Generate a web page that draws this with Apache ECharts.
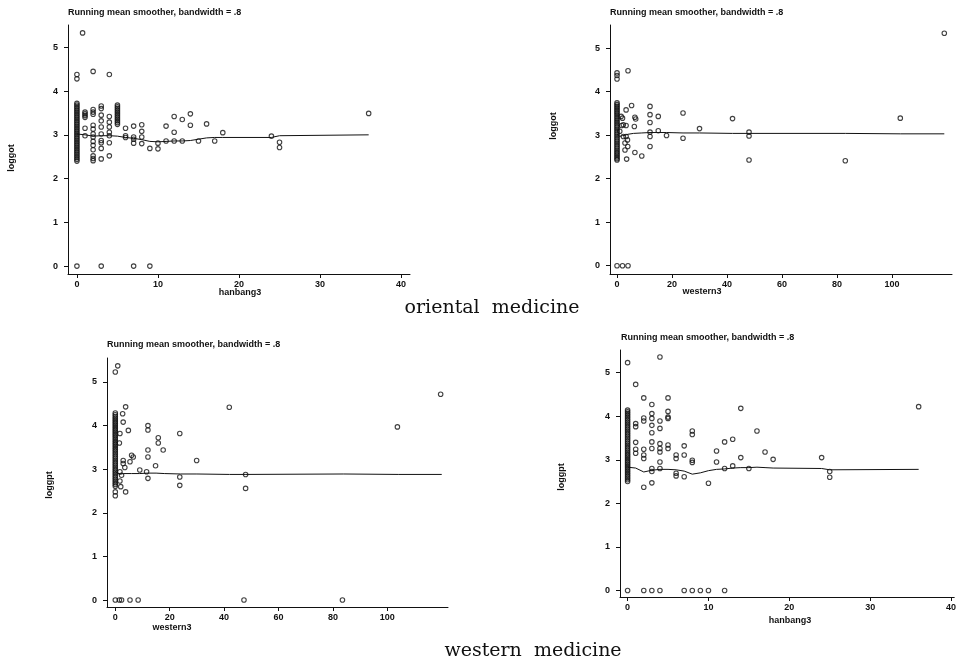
<!DOCTYPE html>
<html><head><meta charset="utf-8">
<script src="https://cdn.jsdelivr.net/npm/echarts@6/dist/echarts.min.js"></script>
<style>html,body{margin:0;padding:0;background:#fff}#c{width:959px;height:666px}</style>
</head><body><div id="c"></div>
<script>
// ---------- tick labels ----------
const yTicks = [0, 1, 2, 3, 4, 5];
const hanbangTicks = [0, 10, 20, 30, 40];
const westernTicks = [0, 20, 40, 60, 80, 100];
const panelTitle = 'Running mean smoother, bandwidth = .8';

// ---------- panel 1: hanbang3 vs loggot ----------
const p1Points = [
  [0,4.38],[0,4.28],[0,0],
  [0,3.72],[0,3.68],[0,3.64],[0,3.60],[0,3.56],[0,3.52],[0,3.48],[0,3.44],[0,3.40],[0,3.36],[0,3.32],[0,3.28],
  [0,3.24],[0,3.20],[0,3.16],[0,3.12],[0,3.08],[0,3.04],[0,3.00],[0,2.96],[0,2.92],[0,2.88],[0,2.84],[0,2.80],
  [0,2.76],[0,2.72],[0,2.68],[0,2.64],[0,2.60],[0,2.56],[0,2.52],[0,2.48],[0,2.44],[0,2.40],
  [0.7,5.33],[1,3.52],[1,3.48],[1,3.44],[1,3.40],[1,3.15],[1,2.98],
  [2,4.45],[2,3.58],[2,3.52],[2,3.47],[2,3.22],[2,3.13],[2,3.02],[2,2.95],[2,2.85],[2,2.76],[2,2.66],[2,2.52],[2,2.46],[2,2.41],
  [3,3.66],[3,3.60],[3,3.45],[3,3.32],[3,3.18],[3,3.02],[3,2.87],[3,2.82],[3,2.69],[3,2.45],[3,0],
  [4,4.38],[4,3.42],[4,3.29],[4,3.18],[4,3.06],[4,2.98],[4,2.82],[4,2.52],
  [5,3.68],[5,3.64],[5,3.60],[5,3.56],[5,3.52],[5,3.48],[5,3.44],[5,3.40],[5,3.36],[5,3.32],[5,3.28],[5,3.24],
  [6,3.15],[6,2.98],[6,2.94],
  [7,3.20],[7,2.95],[7,2.90],[7,2.81],[7,0],
  [8,3.23],[8,3.08],[8,2.95],[8,2.80],
  [9,2.69],[9,0],[10,2.81],[10,2.68],[11,3.20],[11,2.86],[12,3.42],[12,3.06],[12,2.86],
  [13,3.35],[13,2.86],[14,3.48],[14,3.22],[15,2.86],[16,3.25],[17,2.86],[18,3.05],
  [24,2.97],[25,2.83],[25,2.71],[36,3.49]
];
const p1Smooth = [[0,3.02],[1,3.0],[2,2.97],[3,2.98],[4,2.98],[5,2.97],[6,2.94],[7,2.92],[8,2.89],[9,2.85],[10,2.84],
  [11,2.85],[12,2.86],[13,2.86],[14,2.87],[15,2.90],[16,2.93],[17,2.94],[18,2.94],[24,2.94],[25,2.98],[36,3.0]];

// ---------- panel 2: western3 vs loggot ----------
const p2Points = [
  [0,4.43],[0,4.37],[0,4.29],[0,0],[2,0],[4,0],[4,4.48],
  [0,3.74],[0,3.70],[0,3.66],[0,3.62],[0,3.58],[0,3.54],[0,3.50],[0,3.46],[0,3.42],[0,3.38],[0,3.34],[0,3.30],
  [0,3.26],[0,3.22],[0,3.18],[0,3.14],[0,3.10],[0,3.06],[0,3.02],[0,2.98],[0,2.94],[0,2.90],[0,2.86],[0,2.82],
  [0,2.78],[0,2.74],[0,2.70],[0,2.66],[0,2.62],[0,2.58],[0,2.54],[0,2.50],[0,2.46],[0,2.43],
  [3.3,3.58],[2,3.39],[2.3,3.24],[3.3,3.22],[1.7,3.22],[3.3,2.97],[3.8,2.89],[2.9,2.82],[3.9,2.74],[2.9,2.66],
  [3.5,2.45],[2.3,2.97],[1,3.09],[1.5,3.43],
  [5.3,3.68],[6.5,3.41],[6.8,3.37],[6.3,3.20],[6.5,2.60],[9,2.52],
  [12,3.66],[12,3.47],[12,3.29],[12,3.07],[12,2.97],[12,2.74],
  [15,3.43],[15,3.10],[18,2.99],[24,3.51],[24,2.93],[30,3.15],[42,3.38],
  [48,3.07],[48,2.98],[48,2.43],[83,2.41],[103,3.39],[119,5.34]
];
const p2Smooth = [[0,3.02],[1,2.97],[2,2.99],[3,3.0],[4,3.02],[6,3.04],[9,3.05],[12,3.06],[18,3.06],[24,3.05],
  [30,3.05],[42,3.04],[48,3.04],[83,3.04],[103,3.03],[119,3.03]];

// ---------- panel 3: western3 vs loggpt ----------
const p3Points = [
  [0,5.23],[0,2.48],[0,2.39],[0,0],[0.9,5.37],[1.5,0],[2.3,0],[5.4,0],[8.4,0],
  [0,4.29],[0,4.25],[0,4.21],[0,4.17],[0,4.13],[0,4.09],[0,4.05],[0,4.01],[0,3.97],[0,3.93],[0,3.89],[0,3.85],
  [0,3.81],[0,3.77],[0,3.73],[0,3.69],[0,3.65],[0,3.61],[0,3.57],[0,3.53],[0,3.49],[0,3.45],[0,3.41],[0,3.37],
  [0,3.33],[0,3.29],[0,3.25],[0,3.21],[0,3.17],[0,3.13],[0,3.09],[0,3.05],[0,3.01],[0,2.97],[0,2.93],[0,2.89],
  [0,2.85],[0,2.81],[0,2.77],[0,2.73],[0,2.69],[0,2.65],[0,2.61],
  [3.8,4.43],[2.7,4.27],[2.9,4.08],[4.8,3.89],[1.7,3.82],[1.5,3.60],[6,3.32],[6.6,3.28],[5.4,3.17],
  [2.9,3.20],[2.9,3.13],[3.5,3.04],[1.7,2.94],[2.3,2.86],[1.7,2.73],[2,2.60],[3.8,2.48],[9,2.98],[11.5,2.94],
  [12,4.00],[12,3.90],[12,3.44],[12,3.28],[12,2.79],
  [14.8,3.08],[15.8,3.72],[15.8,3.60],[17.6,3.44],[23.7,3.82],[23.7,2.82],[23.7,2.63],[29.9,3.20],
  [41.9,4.42],[47.9,2.56],[47.9,2.88],[47.3,0],[83.5,0],[103.7,3.97],[119.6,4.72]
];
const p3Smooth = [[0,2.95],[1,2.90],[2,2.89],[3,2.90],[6,2.90],[9,2.90],[12,2.91],[15,2.91],[18,2.90],[24,2.89],
  [30,2.89],[42,2.88],[48,2.88],[84,2.89],[104,2.88],[120,2.88]];

// ---------- panel 4: hanbang3 vs loggpt ----------
const p4Points = [
  [0,5.23],[0,0],
  [0,4.14],[0,4.10],[0,4.06],[0,4.02],[0,3.98],[0,3.94],[0,3.90],[0,3.86],[0,3.82],[0,3.78],[0,3.74],[0,3.70],
  [0,3.66],[0,3.62],[0,3.58],[0,3.54],[0,3.50],[0,3.46],[0,3.42],[0,3.38],[0,3.34],[0,3.30],[0,3.26],[0,3.22],
  [0,3.18],[0,3.14],[0,3.10],[0,3.06],[0,3.02],[0,2.98],[0,2.94],[0,2.90],[0,2.86],[0,2.82],[0,2.78],[0,2.74],
  [0,2.70],[0,2.66],[0,2.62],[0,2.58],[0,2.54],[0,2.50],
  [1,4.73],[1,3.83],[1,3.76],[1,3.40],[1,3.24],[1,3.15],
  [2,4.42],[2,3.96],[2,3.89],[2,3.24],[2,3.11],[2,3.03],[2,2.37],[2,0],
  [3,4.27],[3,4.06],[3,3.95],[3,3.79],[3,3.62],[3,3.41],[3,3.26],[3,2.80],[3,2.73],[3,2.47],[3,0],
  [4,5.36],[4,3.89],[4,3.72],[4,3.37],[4,3.26],[4,3.18],[4,2.95],[4,2.80],[4,0],
  [5,4.42],[5,4.11],[5,3.98],[5,3.95],[5,3.34],[5,3.26],
  [6,3.11],[6,3.03],[6,2.69],[6,2.63],
  [7,3.32],[7,3.11],[7,2.61],[7,0],
  [8,3.66],[8,3.58],[8,2.99],[8,2.94],[8,0],
  [9,0],[10,2.46],[10,0],[11,3.20],[11,2.95],[12,3.41],[12,2.80],[12,0],
  [13,3.47],[13,2.86],[14,4.18],[14,3.05],[15,2.80],[16,3.66],[17,3.18],[18,3.01],
  [24,3.05],[25,2.73],[25,2.60],[36,4.22]
];
const p4Smooth = [[0,2.83],[1,2.81],[2,2.72],[3,2.76],[4,2.78],[5,2.78],[6,2.77],[7,2.74],[8,2.67],[9,2.70],
  [10,2.75],[11,2.78],[12,2.79],[13,2.81],[14,2.82],[15,2.82],[16,2.83],[17,2.82],[18,2.81],[24,2.80],[25,2.77],[36,2.78]];

// ---------- layout (positions / ranges) ----------
const grids = [
  {left: 68, top: 25, width: 342, height: 249},
  {left: 610, top: 25, width: 342, height: 249},
  {left: 107, top: 358, width: 341, height: 249},
  {left: 620, top: 350, width: 339, height: 247}
];
const xRanges = [[-1.1, 41.1], [-2.55, 121.8], [-3.05, 122.3], [-0.94, 40.4]];
const yRanges = [[-0.18, 5.51], [-0.19, 5.53], [-0.16, 5.55], [-0.15, 5.52]];
const xTickSets = [hanbangTicks, westernTicks, westernTicks, hanbangTicks];

const FONT = 'Liberation Sans, Arial, sans-serif';
const axisBase = {
  axisLine: {show: true, onZero: false, lineStyle: {color: '#111', width: 1}},
  splitLine: {show: false},
  axisTick: {show: true, length: 4, lineStyle: {color: '#111', width: 1}},
};

const xAxes = grids.map((g, i) => ({
  type: 'value', gridIndex: i, min: xRanges[i][0], max: xRanges[i][1],
  axisLine: axisBase.axisLine, splitLine: axisBase.splitLine,
  axisTick: Object.assign({customValues: xTickSets[i]}, axisBase.axisTick),
  axisLabel: {customValues: xTickSets[i], color: '#111', fontSize: 9, fontWeight: 'bold', fontFamily: FONT, margin: 6, showMinLabel: true, showMaxLabel: true}
}));
const yAxes = grids.map((g, i) => ({
  type: 'value', gridIndex: i, min: yRanges[i][0], max: yRanges[i][1],
  axisLine: axisBase.axisLine, splitLine: axisBase.splitLine,
  axisTick: Object.assign({customValues: yTicks}, axisBase.axisTick),
  axisLabel: {customValues: yTicks, color: '#111', fontSize: 9, fontWeight: 'bold', fontFamily: FONT, margin: 10}
}));

const pointSets = [p1Points, p2Points, p3Points, p4Points];
const smoothSets = [p1Smooth, p2Smooth, p3Smooth, p4Smooth];
const series = [];
pointSets.forEach((pts, i) => {
  series.push({
    type: 'scatter', xAxisIndex: i, yAxisIndex: i, data: pts, symbol: 'circle', symbolSize: 4.5,
    itemStyle: {color: 'rgba(255,255,255,0)', borderColor: '#111', borderWidth: 1.1}, silent: true
  });
  series.push({
    type: 'line', xAxisIndex: i, yAxisIndex: i, data: smoothSets[i], showSymbol: false, symbol: 'none',
    lineStyle: {color: '#111', width: 1}, silent: true
  });
});

const titleStyle = {fontSize: 9, fontWeight: 'bold', color: '#111', fontFamily: FONT};
const titles = [
  {text: panelTitle, left: 68, top: 8, padding: 0, textStyle: titleStyle},
  {text: panelTitle, left: 610, top: 8, padding: 0, textStyle: titleStyle},
  {text: panelTitle, left: 107, top: 340, padding: 0, textStyle: titleStyle},
  {text: panelTitle, left: 621, top: 333, padding: 0, textStyle: titleStyle}
];

const nameStyle = {fontSize: 9, fontWeight: 'bold', fill: '#111', fontFamily: FONT, align: 'center', verticalAlign: 'middle'};
function txt(s, x, y, rot, extra) {
  return {type: 'text', x: x, y: y, rotation: rot || 0, style: Object.assign({text: s}, nameStyle, extra || {})};
}
const capStyle = {fontSize: 19, fontWeight: 'normal', fontFamily: 'DejaVu Serif, serif'};

const chart = echarts.init(document.getElementById('c'), null, {renderer: 'canvas'});
chart.setOption({
  animation: false,
  backgroundColor: '#fff',
  title: titles,
  grid: grids,
  xAxis: xAxes,
  yAxis: yAxes,
  series: series,
  graphic: [
    txt('hanbang3', 240, 293),
    txt('western3', 702, 292),
    txt('western3', 172, 628),
    txt('hanbang3', 790, 621),
    txt('loggot', 12, 158, Math.PI / 2),
    txt('loggot', 554, 126, Math.PI / 2),
    txt('loggpt', 50, 485, Math.PI / 2),
    txt('loggpt', 562, 477, Math.PI / 2),
    txt('oriental  medicine', 492, 308, 0, capStyle),
    txt('western  medicine', 533, 651, 0, capStyle)
  ]
});
</script>
</body></html>
